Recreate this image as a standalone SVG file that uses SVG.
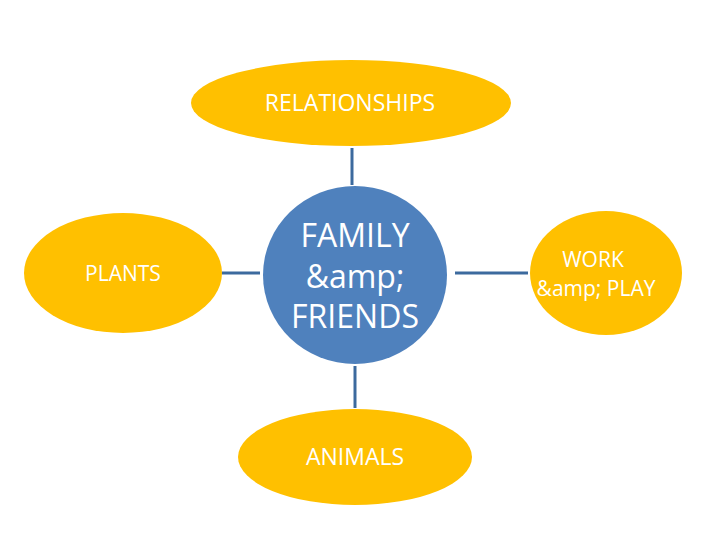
<svg xmlns="http://www.w3.org/2000/svg" width="720" height="540" viewBox="0 0 720 540">
<style>
.y{fill:#FFC000}
.c{stroke:#3C6A9E;stroke-width:3;fill:none}
text{font-family:"Open Sans","Liberation Sans",sans-serif;text-anchor:middle;fill:#ffffff}
.d{font-size:23px}
.s{font-size:21px}
.w{font-size:32px}
</style>
<rect width="720" height="540" fill="#fff"/>
<g id="connectors">
<line class="c" x1="352" y1="148" x2="352" y2="185"/>
<line class="c" x1="355" y1="366" x2="355" y2="408"/>
<line class="c" x1="222" y1="273" x2="260" y2="273"/>
<line class="c" x1="455" y1="273" x2="528" y2="273"/>
</g>
<g id="relationships"><ellipse class="y" cx="351" cy="103" rx="160" ry="43"/><text class="d" x="350" y="111">RELATIONSHIPS</text></g>
<g id="plants"><ellipse class="y" cx="123" cy="273" rx="99" ry="60"/><text class="s" x="123" y="281">PLANTS</text></g>
<g id="center"><ellipse cx="355" cy="275" rx="92" ry="89" fill="#4F81BD"/><text class="w" x="355" y="247">FAMILY</text><text class="w" x="355" y="288">&amp;amp;</text><text class="w" x="355" y="328">FRIENDS</text></g>
<g id="work"><ellipse class="y" cx="606" cy="273" rx="76" ry="62"/><text class="s" x="593" y="267">WORK</text><text class="s" x="596" y="296">&amp;amp; PLAY</text></g>
<g id="animals"><ellipse class="y" cx="355" cy="457" rx="117" ry="48"/><text class="d" x="355" y="465">ANIMALS</text></g>
</svg>
